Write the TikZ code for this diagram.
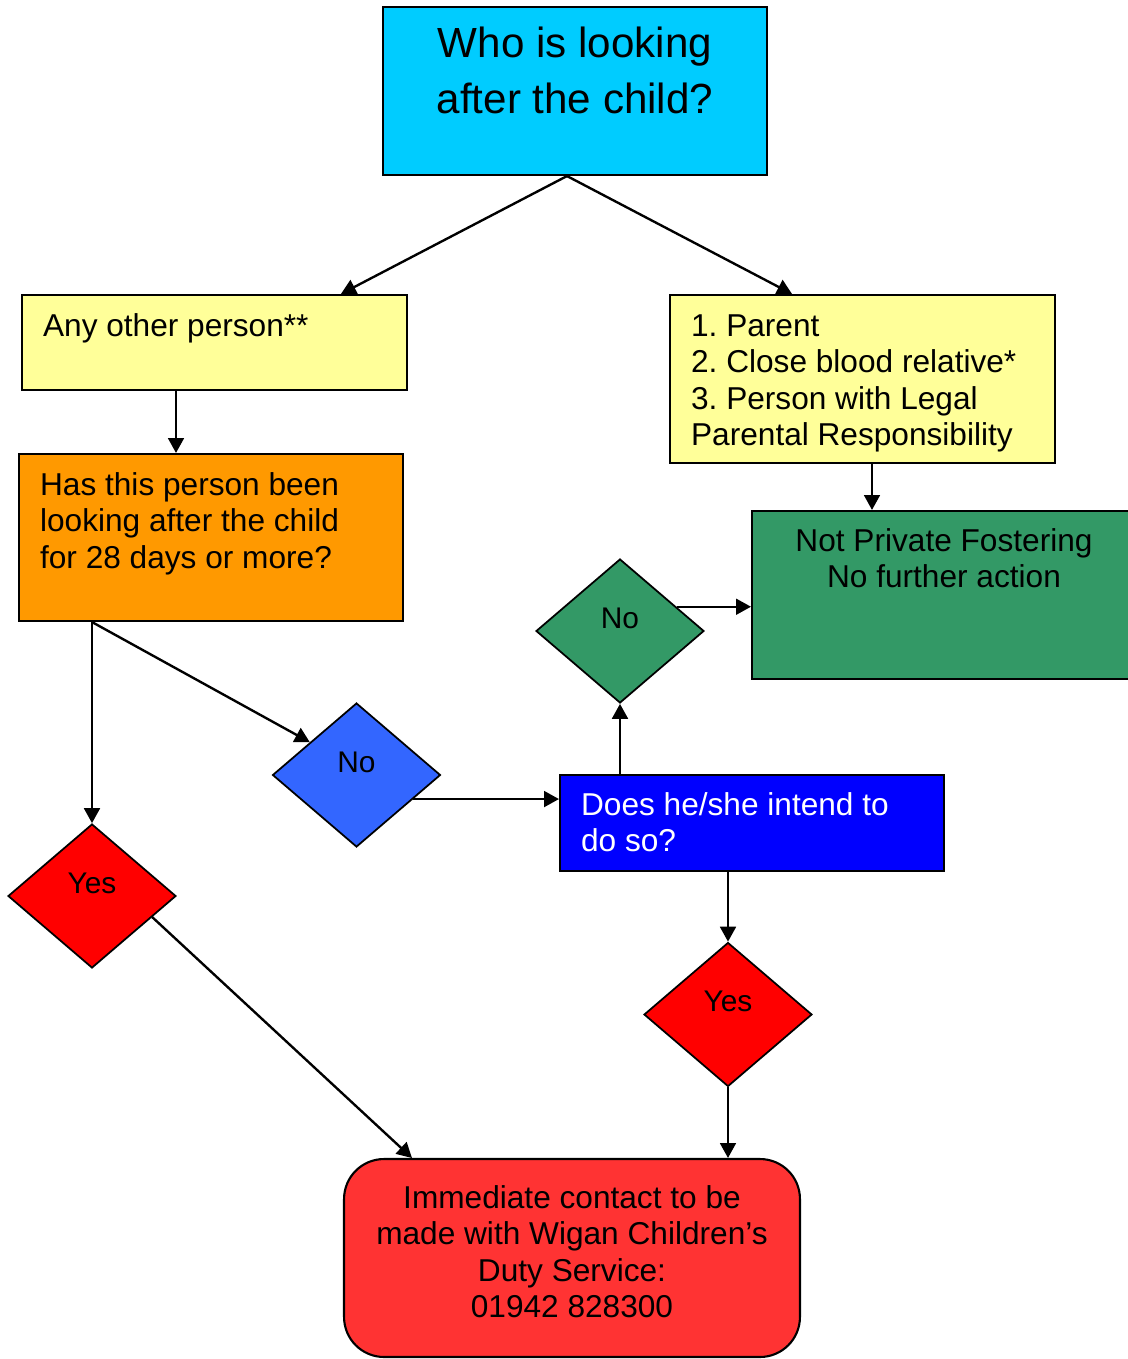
\documentclass[tikz,border=0pt]{standalone}
\usepackage{fontspec}
\setmainfont{Liberation Sans}
\usetikzlibrary{shapes.geometric,arrows.meta,calc}
\frenchspacing

\definecolor{askcyan}{HTML}{00CCFF}
\definecolor{paleyellow}{HTML}{FFFF99}
\definecolor{careorange}{HTML}{FF9900}
\definecolor{fostergreen}{HTML}{339966}
\definecolor{noblue}{HTML}{3366FF}
\definecolor{intendblue}{HTML}{0000FF}
\definecolor{yesred}{HTML}{FF0000}
\definecolor{contactred}{HTML}{FF3333}

% height, width, alignment, top pad, text
\newcommand{\boxlines}[5]{\parbox[c][#1][t]{\dimexpr#2-24pt\relax}{#3\vspace*{#4}\strut #5}}

\tikzset{
  panel/.style={draw, rectangle, line width=1.2pt, inner xsep=12pt, inner ysep=0pt,
    font=\fontsize{18}{20.8}\selectfont},
  choice/.style={draw, diamond, line width=1pt, minimum width=3.36cm, minimum height=2.88cm,
    inner sep=0pt, text depth=0.52cm, font=\fontsize{17}{20}\selectfont},
  arr/.style={-{Triangle[length=8.5pt,width=9pt]}, line width=1.35pt}
}

\begin{document}
\begin{tikzpicture}[x=0.02cm, y=-0.02cm]
\useasboundingbox (0,0) rectangle (1128,1359);

% Question at the top
\node[panel, fill=askcyan, font=\fontsize{24}{31.7}\selectfont] (who) at (575,91)
  {\boxlines{3.36cm}{7.68cm}{\centering}{6.8pt}{Who is looking\\after the child?}};

% The two kinds of carer
\node[panel, fill=paleyellow] (other) at (214.5,342.5)
  {\boxlines{1.9cm}{7.7cm}{\raggedright}{8.9pt}{Any other person**}};
\node[panel, fill=paleyellow] (family) at (862.5,379)
  {\boxlines{3.36cm}{7.7cm}{\raggedright}{8.9pt}{1. Parent\\2. Close blood relative*\\3. Person with Legal\\Parental Responsibility}};

% 28 day question
\node[panel, fill=careorange] (days) at (211,537.5)
  {\boxlines{3.34cm}{7.68cm}{\raggedright}{8.9pt}{Has this person been\\looking after the child\\for 28 days or more?}};

% Outcome: no action
\node[panel, fill=fostergreen] (noaction) at (944,595)
  {\boxlines{3.36cm}{7.68cm}{\centering}{8.3pt}{Not Private Fostering\\No further action}};

% Intention question
\node[panel, fill=intendblue, text=white] (intend) at (752,823)
  {\boxlines{1.92cm}{7.68cm}{\raggedright}{8.3pt}{Does he/she intend to\\do so?}};

% Outcome: contact duty service
\node[panel, fill=contactred, rounded corners=0.8cm] (contact) at (572,1258)
  {\boxlines{3.96cm}{9.12cm}{\centering}{13.4pt}{Immediate contact to be\\made with Wigan Children’s\\Duty Service:\\01942 828300}};

% Decisions
\node[choice, fill=fostergreen] (nointend) at (620,631) {No};
\node[choice, fill=noblue] (nodays) at (356.5,775) {No};
\node[choice, fill=yesred] (yesdays) at (92,896) {Yes};
\node[choice, fill=yesred] (yesintend) at (728,1014.5) {Yes};

% Connectors
\coordinate (top) at ([xshift=-0.16cm]who.south);
\draw[arr] (top) -- ([xshift=2.53cm]other.north);
\draw[arr] (top) -- ([xshift=-1.41cm]family.north);
\draw[arr] ([xshift=-0.77cm]other.south) -- ([xshift=-0.77cm]other.south |- days.north);
\draw[arr] ([xshift=0.19cm]family.south) -- ([xshift=0.19cm]family.south |- noaction.north);

\coordinate (fork) at (yesdays.north |- days.south);
\draw[arr] (fork) -- (yesdays.north);
\draw[arr] (fork) -- ($(nodays.west)!0.45!(nodays.north)$);

\coordinate (noout) at ($(nodays.east)!0.33!(nodays.south)$);
\draw[arr] (noout) -- (noout -| intend.west);
\draw[arr] (nointend.south |- intend.north) -- (nointend.south);

\coordinate (greenout) at ($(nointend.north)!0.667!(nointend.east)$);
\draw[arr] (greenout) -- (greenout -| noaction.west);

\draw[arr] (yesintend.north |- intend.south) -- (yesintend.north);
\draw[arr] (yesintend.south) -- (yesintend.south |- contact.north);

\coordinate (yesout) at ($(yesdays.east)!0.29!(yesdays.south)$);
\draw[arr] (yesout) -- ([xshift=1.38cm]contact.north west);
\end{tikzpicture}
\end{document}
